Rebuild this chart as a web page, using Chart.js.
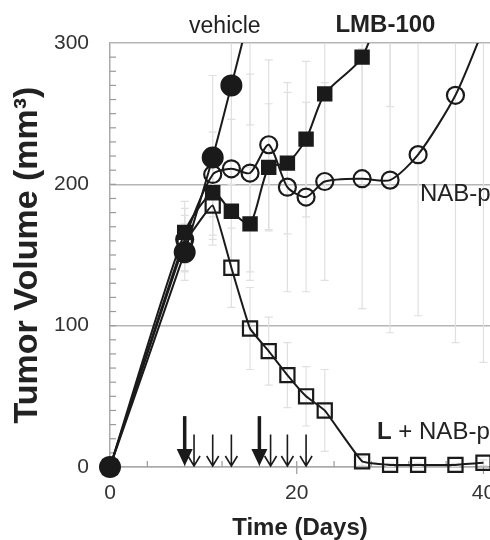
<!DOCTYPE html>
<html><head><meta charset="utf-8">
<script src="https://cdn.jsdelivr.net/npm/chart.js@4.4.1/dist/chart.umd.min.js"></script>
<style>html,body{margin:0;padding:0;background:#fff}#wrap{width:490px;height:540px}</style>
</head><body><div id="wrap"><canvas id="c"></canvas></div>
<script>
// days of measurement, shared by all groups (null = no point)
const days     = [0, 8, 11, 13, 15, 17, 19, 21, 23, 27, 30, 33, 37, 40];
const vehicle  = [0, 152, 219, 270, 322, null, null, null, null, null, null, null, null, null];
const lmb100   = [0, 166, 194, 181, 172, 212, 215, 232, 264, 290, 345, null, null, null];
const nabp     = [0, 161, 207, 211, 208, 228, 198, 191, 202, 204, 203, 221, 263, 310];
const combo    = [0, 158, 185, 141, 98, 82, 65, 50, 40, 4, 1.5, 1.5, 1.5, 3];
// error bars (+/-), estimated
const vehicleErr = [0, 20, 58, 70, 80, null, null, null, null, null, null, null, null, null];
const lmbErr     = [0, 22, 30, 35, 40, 45, 50, 55, 65, 80, 90, null, null, null];
const nabpErr    = [0, 22, 30, 35, 70, 60, 74, 67, 70, 92, 108, 114, 175, 236];
const comboErr   = [0, 20, 28, 28, 29, 24, 23, 21, 29, 3, 1, 1, 1, 2];
// treatment arrows (days)
const bigArrows   = [8, 16];
const smallArrows = [9, 11, 13, 17.2, 19, 21];
const yTicksMajor = [0, 50, 100, 150, 200, 250, 300];
const xTicksMajor = [0, 20, 40];

const FONT = "'Liberation Sans', Arial, sans-serif";
const INK = "#1a1a1a";

function pts(vals){ return days.map((d,i)=> vals[i]==null ? null : {x:d, y:vals[i]}).filter(Boolean); }

// faint error bars + inward minor ticks, under the data
const underPlugin = {
  id:"under",
  beforeDatasetsDraw(chart){
    const {ctx, chartArea:a, scales:{x,y}} = chart;
    const sets = [[vehicle,vehicleErr],[lmb100,lmbErr],[nabp,nabpErr],[combo,comboErr]];
    ctx.save();
    ctx.strokeStyle="#9a9a9a"; ctx.lineWidth=1.2;
    for(let v=10; v<300; v+=10){
      const py=y.getPixelForValue(v);
      ctx.beginPath(); ctx.moveTo(a.left,py); ctx.lineTo(a.left+6,py); ctx.stroke();
    }
    for(let d=4; d<=40; d+=4){
      const px=x.getPixelForValue(d);
      ctx.beginPath(); ctx.moveTo(px,a.bottom); ctx.lineTo(px,a.bottom-6); ctx.stroke();
    }
    xTicksMajor.slice(1).forEach(d=>{
      const px=x.getPixelForValue(d);
      ctx.beginPath(); ctx.moveTo(px,a.bottom); ctx.lineTo(px,a.bottom+7); ctx.stroke();
    });

    ctx.beginPath(); ctx.rect(a.left, a.top, a.right-a.left, a.bottom-a.top); ctx.clip();
    ctx.strokeStyle="#e0e0e0"; ctx.lineWidth=1.2;
    sets.forEach(([v,e])=>{
      v.forEach((val,i)=>{
        if(val==null || !e[i]) return;
        const px=x.getPixelForValue(days[i]);
        const lo=y.getPixelForValue(val-e[i]), hi=y.getPixelForValue(val+e[i]);
        ctx.beginPath();
        ctx.moveTo(px,lo); ctx.lineTo(px,hi);
        ctx.moveTo(px-4,lo); ctx.lineTo(px+4,lo);
        ctx.moveTo(px-4,hi); ctx.lineTo(px+4,hi);
        ctx.stroke();
      });
    });
    ctx.restore();
  }
};

const decoPlugin = {
  id:"deco",
  afterDraw(chart){
    const {ctx, scales:{x,y}} = chart;
    ctx.save();
    // arrows
    ctx.strokeStyle=INK; ctx.fillStyle=INK;
    const base=y.getPixelForValue(0)-1;
    bigArrows.forEach(d=>{
      const px=x.getPixelForValue(d), top=y.getPixelForValue(36);
      ctx.lineWidth=3.5;
      ctx.beginPath(); ctx.moveTo(px,top); ctx.lineTo(px,base-12); ctx.stroke();
      ctx.beginPath(); ctx.moveTo(px-8,base-17); ctx.lineTo(px+8,base-17); ctx.lineTo(px,base); ctx.closePath(); ctx.fill();
    });
    smallArrows.forEach(d=>{
      const px=x.getPixelForValue(d), top=y.getPixelForValue(23);
      ctx.lineWidth=1.6;
      ctx.beginPath(); ctx.moveTo(px,top); ctx.lineTo(px,base);
      ctx.moveTo(px-6,base-10); ctx.lineTo(px,base); ctx.lineTo(px+6,base-10); ctx.stroke();
    });

    // group labels
    ctx.fillStyle="#222"; ctx.textBaseline="alphabetic";
    ctx.textAlign="center";
    ctx.font="23px "+FONT;
    ctx.fillText("vehicle", x.getPixelForValue(12.3), 33);
    ctx.font="bold 24px "+FONT;
    ctx.fillText("LMB-100", x.getPixelForValue(29.5), 32);
    ctx.textAlign="left";
    ctx.font="24px "+FONT;
    ctx.fillText("NAB-p", x.getPixelForValue(33.2), y.getPixelForValue(188));
    const lx=x.getPixelForValue(28.6), ly=y.getPixelForValue(19.5);
    ctx.font="bold 24px "+FONT;
    ctx.fillText("L", lx, ly);
    const w=ctx.measureText("L").width;
    ctx.font="24px "+FONT;
    ctx.fillText(" + NAB-p", lx+w, ly);
    ctx.restore();
  }
};

const clip = {left:14, bottom:14, top:0, right:14};

new Chart(document.getElementById("c"), {
  type:"line",
  data:{datasets:[
    {label:"vehicle", data:pts(vehicle), borderColor:INK, borderWidth:2, tension:0.15,
     pointStyle:"circle", pointRadius:10, pointBackgroundColor:INK, pointBorderColor:INK, clip},
    {label:"LMB-100", data:pts(lmb100), borderColor:INK, borderWidth:2, tension:0.25,
     pointStyle:"rect", pointRadius:9.5, pointBackgroundColor:INK, pointBorderColor:INK, clip},
    {label:"NAB-p", data:pts(nabp), borderColor:INK, borderWidth:2, tension:0.25,
     pointStyle:"circle", pointRadius:8.5, pointBorderWidth:2.2, pointBackgroundColor:"rgba(0,0,0,0)", pointBorderColor:INK, clip},
    {label:"L + NAB-p", data:pts(combo), borderColor:INK, borderWidth:2, tension:0.1,
     pointStyle:"rect", pointRadius:10, pointBorderWidth:2.2, pointBackgroundColor:"rgba(0,0,0,0)", pointBorderColor:INK, clip}
  ]},
  options:{
    responsive:true, maintainAspectRatio:false, animation:false,
    layout:{autoPadding:false, padding:{top:43, left:0, right:0, bottom:0}},
    plugins:{legend:{display:false}, tooltip:{enabled:false}},
    scales:{
      x:{type:"linear", min:0, max:40.7,
        afterBuildTicks(s){ s.ticks = xTicksMajor.map(v=>({value:v})); },
        afterFit(s){ s.height=73; s.paddingRight=0; },
        grid:{display:false, drawTicks:false},
        border:{display:true, color:"#aaaaaa", width:1.5},
        ticks:{autoSkip:false, maxRotation:0, padding:14, color:"#333", font:{family:FONT, size:21}},
        title:{display:true, text:"Time (Days)", color:"#222", padding:{top:0,bottom:0},
          font:{family:FONT, size:24, weight:"bold", lineHeight:1}}},
      y:{min:0, max:300,
        afterFit(s){ s.width=110; s.paddingTop=0; },
        grid:{drawTicks:false, lineWidth:1.6,
          color:c=> yTicksMajor.includes(c.tick.value) ? "#b5b5b5" : "rgba(0,0,0,0)"},
        border:{display:true, color:"#aaaaaa", width:1.5},
        ticks:{stepSize:10, padding:21, color:"#333", font:{family:FONT, size:21},
          callback:v=> yTicksMajor.includes(v) ? v : ""},
        title:{display:true, text:"Tumor Volume (mm³)", color:"#222", padding:{top:11,bottom:0},
          font:{family:FONT, size:34, weight:"bold", lineHeight:1}}}
    }
  },
  plugins:[underPlugin, decoPlugin]
});
</script></body></html>
